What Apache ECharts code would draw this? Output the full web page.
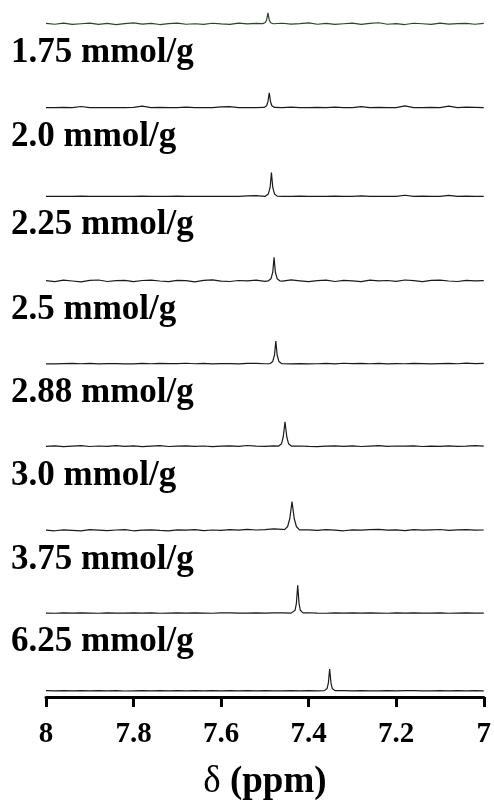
<!DOCTYPE html>
<html>
<head>
<meta charset="utf-8">
<script src="https://cdn.jsdelivr.net/npm/echarts@6/dist/echarts.min.js"></script>
<style>
html,body{margin:0;padding:0;background:#fff;}
#chart{width:494px;height:806px;}
</style>
</head>
<body>
<div id="chart"></div>
<script>
// ---- DATA ----
const sampleLabels = ['1.75 mmol/g','2.0 mmol/g','2.25 mmol/g','2.5 mmol/g','2.88 mmol/g','3.0 mmol/g','3.75 mmol/g','6.25 mmol/g', null];
const xTicks = [8, 7.8, 7.6, 7.4, 7.2, 7];
const axisTitle = 'δ (ppm)';

// chemical-shift sample positions (ppm) for the baseline of every trace
const ppmGrid = [
  8.00,7.98,7.96,7.94,7.92,7.90,7.88,7.86,7.84,7.82,
  7.80,7.78,7.76,7.74,7.72,7.70,7.68,7.66,7.64,7.62,
  7.60,7.58,7.56,7.54,7.52,7.50,7.48,7.46,7.44,7.42,
  7.40,7.38,7.36,7.34,7.32,7.30,7.28,7.26,7.24,7.22,
  7.20,7.18,7.16,7.14,7.12,7.10,7.08,7.06,7.04,7.02,
  7.00
];

// baseline intensities
const base1 = [0.5,-0.3,0.8,-0.5,0.2,0.9,-0.4,0.6,-0.7,0.3, 1.0,-0.2,0.5,-0.6,0.4,0.8,-0.3,0.2,-0.5,0.7, 0.1,-0.4,0.9,0,0.5,0.3,-0.6,0.7,-0.2,0.4, 1.1,-0.3,0.6,-0.5,0.2,0.8,-0.4,0.5,1.2,-0.3, 0.3,-0.6,0.7,0.2,-0.4,0.9,-0.2,0.4,0.6,-0.3, 0.5];
const base2 = [0,0,0.3,0,1.2,0,0,0.2,0,0, 0.4,1.5,0,0.3,0,0,0.5,0,0.2,0, 0.8,1.0,0,0,0,0,0.4,0,0.6,0, 0,0.3,0,0.5,0,0,1.0,0,0.3,0, 0,1.8,0,0,0.4,0,1.6,0,0.5,0.3, 0];
const base3 = [0,0.2,0,0,0.3,0,0,0,0.2,0, 0,0.4,0,0,0,0.3,0,0,0,0, 0.2,0,0,0.5,0.8,0,0.3,0,0,0.4, 0,0,0,0.3,0,0,0.5,0,0,0, 0,1.2,0,0.4,0,0,1.0,0,0.3,0, 0];
const base4 = [0.6,-0.4,1.0,0.2,-0.6,0.8,1.2,-0.3,0.5,0.9, -0.5,0.7,1.1,0.2,-0.4,0.9,0.5,-0.6,0.8,1.3, 0.1,-0.3,0.7,0.4,1.0,-0.2,0.9,0,1.3,0.4, -0.5,0.6,1.0,-0.3,0.8,0.3,-0.5,1.1,0.4,0.7, -0.2,1.2,0.5,-0.4,0.8,1.0,0.2,-0.3,0.9,0.4, 0.6];
const base5 = [0,0,0.3,0.5,0.2,0.6,0,0.3,0.4,0, 0,0.6,0.2,0.5,0.4,0.3,0.7,0.2,0.5,0, 0.3,0.4,0,0.5,0.6,0.2,0.3,0,0,0.3, 0,0.2,0.5,0,0.7,0.3,0.5,0.2,0.6,0, 0.3,0.2,0.6,0.4,0,0.3,0.5,0.2,0.8,0.4, 0.6];
const base6 = [0.3,0.8,0,0.6,1.0,0.2,0.7,0.4,1.1,0.3, 0.8,0,0.5,1.0,0.2,0.6,0.9,0.3,0.7,0.1, 0.5,0.8,0.4,1.2,0.6,0.3,0.9,0.2,0.5,0.7, 0.3,0,0.6,0.9,0.4,0.8,0.2,0.6,1.0,0.3, 0.7,0.5,0.9,0.2,0.6,0.4,0.8,0.3,0.5,1.0, 0.6];
const base7 = [0.4,-0.3,0.6,0.2,-0.4,0.8,0.3,-0.2,0.5,0.9, -0.3,0.4,0.7,0.1,-0.4,0.6,0.3,0.8,-0.2,0.5, 0.2,0.9,0.4,1.2,0.5,0.8,1.6,1.2,0.5,-0.2, 0.6,0.2,0.9,0.4,-0.3,0.7,0.3,0.8,1.1,0.4, 0.6,-0.2,0.9,0.3,0.7,1.0,0.2,0.6,0.9,0.3, 0.5];
const base8 = [0.2,0,0.3,0.1,0.4,0.2,0,0.3,0.2,0.1, 0.4,0.2,0.3,0,0.2,0.4,0.1,0.3,0.2,0, 0.3,0.4,0.2,0.1,0.3,0.2,0.4,0.3,0.1,0.2, 0.5,0.2,0,0.3,0.2,0.4,0.1,0.3,0.2,0, 0.3,0.2,0.4,0.1,0.2,0.3,0,0.2,0.3,0.1, 0.2];
const base9 = [0.3,0.1,0.4,0.2,0.3,0.1,0.4,0.2,0.3,0, 0.2,0.4,0.2,0.3,0.1,0.3,0.2,0.4,0.1,0.3, 0.2,0.3,0.1,0.4,0.2,0.3,0.2,0.1,0.3,0.2, 0.4,0.2,0.3,0.1,0.3,0.2,0.4,0.2,0.1,0.3, 0.2,0.4,0.3,0.1,0.2,0.3,0.2,0.4,0.1,0.3, 0.2];

// resonance peak points [ppm, intensity]
const peak1 = [[7.505,0.3],[7.499,1.5],[7.496,4],[7.493,11],[7.490,4],[7.487,1.2],[7.481,0.2]];
const peak2 = [[7.502,0.3],[7.496,2],[7.493,6],[7.490,15],[7.487,6],[7.484,2],[7.478,0.3]];
const peak3 = [[7.498,0.3],[7.492,2.5],[7.488,9],[7.485,24],[7.482,9],[7.478,2.5],[7.472,0.3]];
const peak4 = [[7.492,0.4],[7.486,2.5],[7.482,9],[7.479,24],[7.476,9],[7.472,2.5],[7.466,0.4]];
const peak5 = [[7.488,0.4],[7.482,2.5],[7.478,9],[7.475,23],[7.472,9],[7.468,2.5],[7.462,0.4]];
const peak6 = [[7.469,0.5],[7.462,3],[7.458,10],[7.454,25],[7.450,10],[7.446,3],[7.439,0.5]];
const peak7 = [[7.455,0.8],[7.448,4],[7.443,12],[7.438,29],[7.433,12],[7.428,4],[7.421,0.6]];
const peak8 = [[7.437,0.4],[7.431,3],[7.428,10],[7.425,28],[7.422,10],[7.419,3],[7.413,0.4]];
const peak9 = [[7.364,0.4],[7.358,2.5],[7.355,8],[7.352,22],[7.349,8],[7.346,2.5],[7.340,0.4]];

const baselines = [base1,base2,base3,base4,base5,base6,base7,base8,base9];
const peaks = [peak1,peak2,peak3,peak4,peak5,peak6,peak7,peak8,peak9];

// ---- LAYOUT / STYLE ----
const stackOffsets = [675, 591, 502, 417, 334, 251, 167, 84, 6]; // vertical stacking (y-axis units = px)
const traceColors = ['#2b472b','#1a1a1a','#1a1a1a','#1a1a1a','#1a1a1a','#1a1a1a','#1a1a1a','#1a1a1a','#1a1a1a'];
const serif = '"Liberation Serif","Times New Roman",serif';

function buildTrace(i){
  const pk = peaks[i];
  const lo = Math.min(...pk.map(p=>p[0])), hi = Math.max(...pk.map(p=>p[0]));
  const pts = ppmGrid.map((x,j)=>[x, baselines[i][j]])
    .filter(p => p[0] < lo || p[0] > hi)
    .concat(pk)
    .sort((a,b)=>b[0]-a[0]);
  return pts.map(p=>[p[0], p[1] + stackOffsets[i]]);
}

const chart = echarts.init(document.getElementById('chart'), null, {renderer:'canvas'});
const option = {
  backgroundColor:'#fff',
  animation:false,
  grid:{left:46,right:10,top:0,bottom:107},
  xAxis:{
    type:'value', min:7, max:8, interval:0.2, inverse:true,
    axisLine:{show:true,lineStyle:{color:'#000',width:3}},
    axisTick:{show:true,length:10,lineStyle:{color:'#000',width:3}},
    splitLine:{show:false},
    axisLabel:{
      fontSize:29,fontWeight:'bold',fontFamily:serif,color:'#000',margin:23,
      showMinLabel:true,showMaxLabel:true,
      formatter:v=>{const m=xTicks.find(t=>Math.abs(t-v)<1e-6);return m===undefined?'':String(m);}
    },
    name:'{a|δ} {b|(ppm)}', nameLocation:'middle', nameGap:67,
    nameTextStyle:{
      fontFamily:serif,fontSize:37,color:'#000',
      rich:{a:{fontFamily:serif,fontSize:37,fontWeight:'normal',color:'#000'},
            b:{fontFamily:serif,fontSize:37,fontWeight:'bold',color:'#000'}}
    }
  },
  yAxis:{type:'value',min:0,max:699,show:false,splitLine:{show:false}},
  series: baselines.map((b,i)=>({
    type:'line', data:buildTrace(i), showSymbol:false, symbol:'none',
    lineStyle:{color:traceColors[i],width:1.2}, itemStyle:{color:traceColors[i]},
    silent:true, clip:false
  }))
};
chart.setOption(option);

const graphics = [];
sampleLabels.forEach((lab,i)=>{
  if(!lab) return;
  const y = chart.convertToPixel({gridIndex:0},[8, stackOffsets[i]])[1];
  graphics.push({
    type:'text', x:11, y:y+29,
    style:{text:lab, font:'bold 35px '+serif, fill:'#000', verticalAlign:'middle', align:'left'}
  });
});
chart.setOption({graphic:graphics});
</script>
</body>
</html>
